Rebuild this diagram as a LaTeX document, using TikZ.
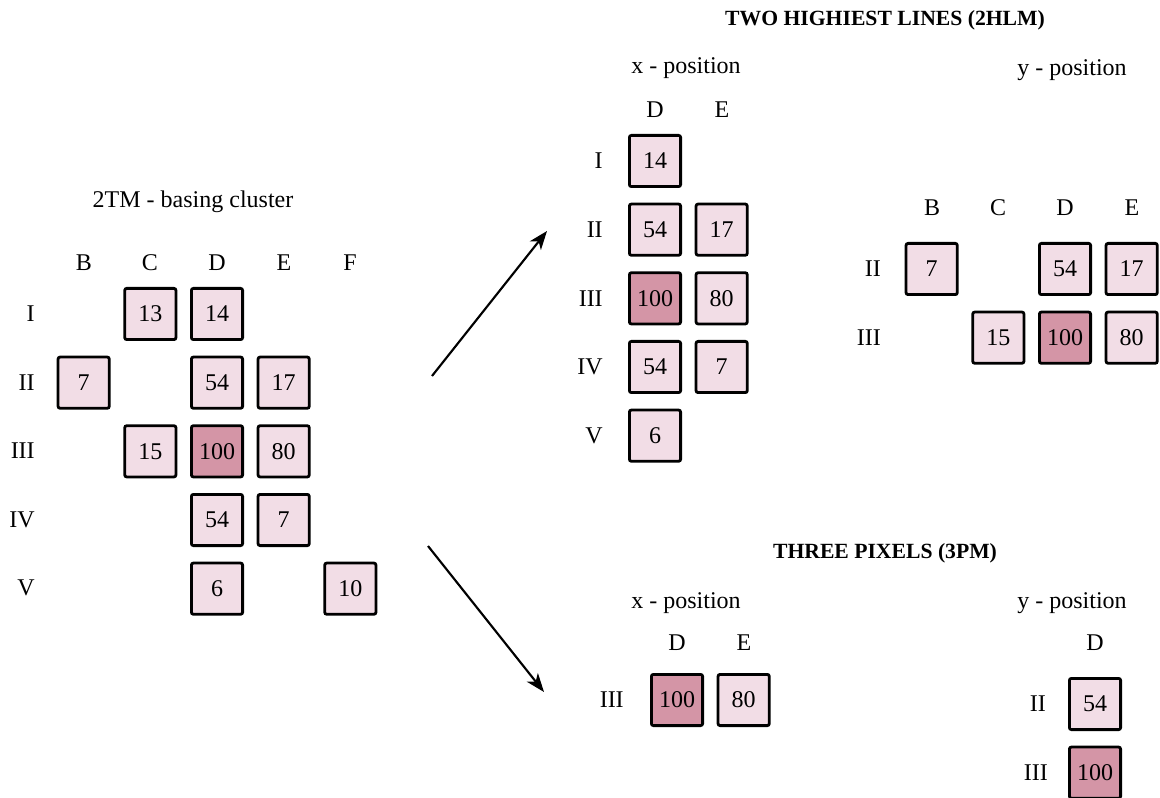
\documentclass[tikz,border=0pt]{standalone}
\usepackage{fontspec}
\setmainfont{Liberation Serif}
\usetikzlibrary{positioning,arrows.meta}
\definecolor{cellpink}{HTML}{F2DDE6}
\definecolor{peakpink}{HTML}{D495A6}

\begin{document}
\begin{tikzpicture}[x=0.75pt,y=-0.75pt,on grid,node distance=51.5pt and 50pt,
   font=\fontsize{18}{21}\selectfont,
   cell/.style={draw,line width=2.1pt,rounded corners=1.5pt,fill=cellpink,minimum size=38.4pt,inner sep=0pt},
   peak/.style={cell,fill=peakpink},
   lab/.style={inner sep=0pt},
   rowlab/.style={inner sep=0pt,anchor=east},
   heading/.style={inner sep=0pt,font=\fontsize{16.25}{19}\selectfont\bfseries},
   flow/.style={-{Stealth[length=14pt,width=10.5pt,inset=4pt]},line width=1.6pt}]
   \useasboundingbox (0,0) rectangle (1160,798);

   % basing cluster
   \node[lab] (cTitle) at (193,202) {2TM - basing cluster};
   \foreach \c/\x in {B/84,C/150,D/217,E/284,F/350}
     \node[lab] (ch\c) at (\x,263) {\c};
   \foreach \r/\y in {I/314,II/383,III/451,IV/520,V/588}
     \node[rowlab] (cr\r) at (35,\y) {\r};

   \node[cell] (c14)  at (217,314)        {14};
   \node[cell] (c13)  [left=of c14]       {13};
   \node[cell] (c54)  [below=of c14]      {54};
   \node[cell] (c7)   [left=100pt of c54] {7};
   \node[cell] (c17)  [right=of c54]      {17};
   \node[peak] (c100) [below=of c54]      {100};
   \node[cell] (c15)  [left=of c100]      {15};
   \node[cell] (c80)  [right=of c100]     {80};
   \node[cell] (c54b) [below=of c100]     {54};
   \node[cell] (c7b)  [right=of c54b]     {7};
   \node[cell] (c6)   [below=of c54b]     {6};
   \node[cell] (c10)  [right=100pt of c6] {10};

   % two highiest lines
   \node[heading] (hTitle) at (885,20) {TWO HIGHIEST LINES (2HLM)};

   \node[lab] (hxTitle) at (686,68) {x - position};
   \node[lab] (hxD) at (655,110) {D};
   \node[lab] (hxE) at (722,110) {E};
   \foreach \r/\y in {I/161,II/230,III/299,IV/367,V/436}
     \node[rowlab] (hxr\r) at (603,\y) {\r};

   \node[cell] (x14)  at (655,161)    {14};
   \node[cell] (x54)  [below=of x14]  {54};
   \node[cell] (x17)  [right=of x54]  {17};
   \node[peak] (x100) [below=of x54]  {100};
   \node[cell] (x80)  [right=of x100] {80};
   \node[cell] (x54b) [below=of x100] {54};
   \node[cell] (x7)   [right=of x54b] {7};
   \node[cell] (x6)   [below=of x54b] {6};

   \node[lab] (hyTitle) at (1072,70) {y - position};
   \foreach \c/\x in {B/932,C/998,D/1065,E/1132}
     \node[lab] (hy\c) at (\x,208) {\c};
   \node[rowlab] (hyrII)  at (881,269) {II};
   \node[rowlab] (hyrIII) at (881,338) {III};

   \node[cell] (y54)  at (1065,269)       {54};
   \node[cell] (y7)   [left=100pt of y54] {7};
   \node[cell] (y17)  [right=of y54]      {17};
   \node[peak] (y100) [below=of y54]      {100};
   \node[cell] (y15)  [left=of y100]      {15};
   \node[cell] (y80)  [right=of y100]     {80};

   % three pixels
   \node[heading] (pTitle) at (885,553) {THREE PIXELS (3PM)};

   \node[lab] (pxTitle) at (686,603) {x - position};
   \node[lab] (pxD) at (677,643) {D};
   \node[lab] (pxE) at (744,643) {E};
   \node[rowlab] (pxrIII) at (624,700) {III};
   \node[peak] (p100) at (677,700)    {100};
   \node[cell] (p80)  [right=of p100] {80};

   \node[lab] (pyTitle) at (1072,603) {y - position};
   \node[lab] (pyD) at (1095,643) {D};
   \node[rowlab] (pyrII)  at (1046,704) {II};
   \node[rowlab] (pyrIII) at (1048,773) {III};
   \node[cell] (q54)  at (1095,704)   {54};
   \node[peak] (q100) [below=of q54]  {100};

   % arrows
   \coordinate (upFrom) at (432,376);
   \coordinate (upTo)   at (547,231);
   \coordinate (dnFrom) at (428,546);
   \coordinate (dnTo)   at (544,692);
   \draw[flow] (upFrom) -- (upTo);
   \draw[flow] (dnFrom) -- (dnTo);
\end{tikzpicture}
\end{document}
